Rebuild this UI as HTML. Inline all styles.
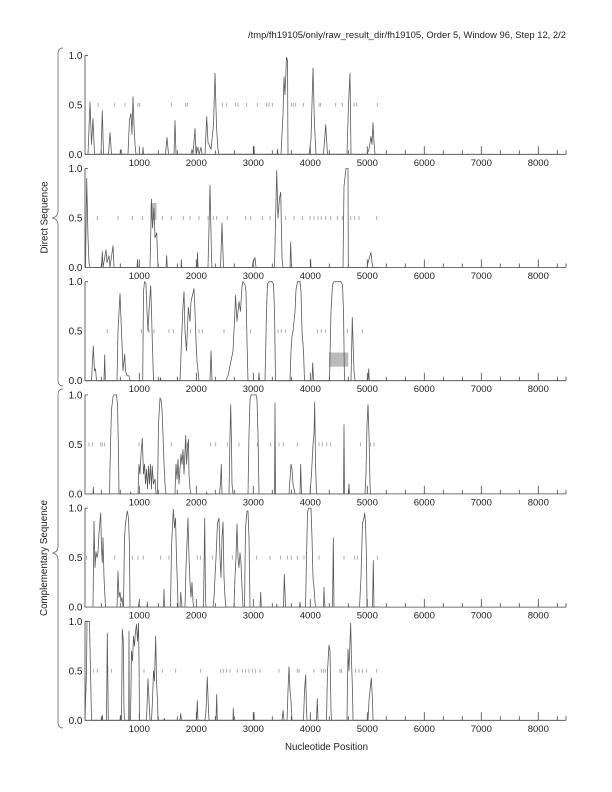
<!DOCTYPE html>
<html><head><meta charset="utf-8"><style>
html,body{margin:0;padding:0;background:#fff;}
svg{display:block;}
text{font-family:"Liberation Sans",Arial,sans-serif;fill:#222;}
.d{fill:none;stroke:#5a5a5a;stroke-width:0.8;vector-effect:non-scaling-stroke;stroke-linejoin:round;}
.m{fill:none;stroke:#999;stroke-width:0.8;vector-effect:non-scaling-stroke;}
</style></head><body>
<svg width="612" height="792" viewBox="0 0 612 792" xmlns="http://www.w3.org/2000/svg">
<defs>
<g id="ax" fill="none" stroke="#444" stroke-width="0.8">
<path d="M85 -99 V0 H566 M85 -99 H88"/>
<path d="M139.3 0v-8M196.3 0v-8M253.3 0v-8M310.3 0v-8M367.3 0v-8M424.3 0v-8M481.3 0v-8M538.3 0v-8"/>
<path d="M101.3 0v-4M120.3 0v-4M158.3 0v-4M177.3 0v-4M215.3 0v-4M234.3 0v-4M272.3 0v-4M291.3 0v-4M329.3 0v-4M348.3 0v-4M386.3 0v-4M405.3 0v-4M443.3 0v-4M462.3 0v-4M500.3 0v-4M519.3 0v-4M557.3 0v-4M566 0v-4"/>
</g>
</defs>

<text x="566" y="38" font-size="9" text-anchor="end" textLength="318" lengthAdjust="spacingAndGlyphs">/tmp/fh19105/only/raw_result_dir/fh19105, Order 5, Window 96, Step 12, 2/2</text>

<!-- braces -->
<path d="M63 48 Q58 48 58 54 L58 211 Q58 217 52 218 Q58 219 58 225 L58 380 Q58 386 63 386" fill="none" stroke="#666" stroke-width="0.8"/>
<path d="M63 389 Q58 389 58 395 L58 546 Q58 552 52.5 553 Q58 554 58 560 L58 722 Q58 728 63 728" fill="none" stroke="#666" stroke-width="0.8"/>
<text transform="translate(47.5,217.5) rotate(-90)" font-size="10" text-anchor="middle" textLength="72" lengthAdjust="spacingAndGlyphs">Direct Sequence</text>
<text transform="translate(47,558) rotate(-90)" font-size="10" text-anchor="middle" textLength="116" lengthAdjust="spacingAndGlyphs">Complementary Sequence</text>

<!-- axes -->
<use href="#ax" y="154.3"/>
<use href="#ax" y="267.5"/>
<use href="#ax" y="380.7"/>
<use href="#ax" y="493.9"/>
<use href="#ax" y="607.1"/>
<use href="#ax" y="720.3"/>

<!-- y labels -->
<g font-size="10" text-anchor="end">
<text x="82.5" y="58.8">1.0</text><text x="82.5" y="108.3">0.5</text><text x="82.5" y="157.8">0.0</text>
<text x="82.5" y="172">1.0</text><text x="82.5" y="221.5">0.5</text><text x="82.5" y="271">0.0</text>
<text x="82.5" y="285.2">1.0</text><text x="82.5" y="334.7">0.5</text><text x="82.5" y="384.2">0.0</text>
<text x="82.5" y="398.4">1.0</text><text x="82.5" y="447.9">0.5</text><text x="82.5" y="497.4">0.0</text>
<text x="82.5" y="511.6">1.0</text><text x="82.5" y="561.1">0.5</text><text x="82.5" y="610.6">0.0</text>
<text x="82.5" y="624.8">1.0</text><text x="82.5" y="674.3">0.5</text><text x="82.5" y="723.8">0.0</text>
</g>

<!-- x labels -->
<g font-size="9.5" text-anchor="middle">
<text x="139.3" y="165.8">1000</text><text x="196.3" y="165.8">2000</text><text x="253.3" y="165.8">3000</text><text x="310.3" y="165.8">4000</text><text x="367.3" y="165.8">5000</text><text x="424.3" y="165.8">6000</text><text x="481.3" y="165.8">7000</text><text x="538.3" y="165.8">8000</text>
<text x="139.3" y="279">1000</text><text x="196.3" y="279">2000</text><text x="253.3" y="279">3000</text><text x="310.3" y="279">4000</text><text x="367.3" y="279">5000</text><text x="424.3" y="279">6000</text><text x="481.3" y="279">7000</text><text x="538.3" y="279">8000</text>
<text x="139.3" y="392.2">1000</text><text x="196.3" y="392.2">2000</text><text x="253.3" y="392.2">3000</text><text x="310.3" y="392.2">4000</text><text x="367.3" y="392.2">5000</text><text x="424.3" y="392.2">6000</text><text x="481.3" y="392.2">7000</text><text x="538.3" y="392.2">8000</text>
<text x="139.3" y="505.4">1000</text><text x="196.3" y="505.4">2000</text><text x="253.3" y="505.4">3000</text><text x="310.3" y="505.4">4000</text><text x="367.3" y="505.4">5000</text><text x="424.3" y="505.4">6000</text><text x="481.3" y="505.4">7000</text><text x="538.3" y="505.4">8000</text>
<text x="139.3" y="618.6">1000</text><text x="196.3" y="618.6">2000</text><text x="253.3" y="618.6">3000</text><text x="310.3" y="618.6">4000</text><text x="367.3" y="618.6">5000</text><text x="424.3" y="618.6">6000</text><text x="481.3" y="618.6">7000</text><text x="538.3" y="618.6">8000</text>
<text x="139.3" y="731.8">1000</text><text x="196.3" y="731.8">2000</text><text x="253.3" y="731.8">3000</text><text x="310.3" y="731.8">4000</text><text x="367.3" y="731.8">5000</text><text x="424.3" y="731.8">6000</text><text x="481.3" y="731.8">7000</text><text x="538.3" y="731.8">8000</text>
</g>
<text x="326.5" y="750" font-size="10" text-anchor="middle" textLength="83" lengthAdjust="spacingAndGlyphs">Nucleotide Position</text>

<!-- grey rects -->
<rect x="150.5" y="203" width="6" height="17" fill="#bbb"/>
<rect x="329" y="352.5" width="19.3" height="14.2" fill="#bbb"/>

<!-- Panel 1 -->
<g transform="translate(0,154.3) scale(1,-99)">
<path class="m" d="M98 0.48V0.52M114.7 0.48V0.52M125 0.48V0.52M138 0.48V0.52M139.7 0.48V0.52M171.3 0.48V0.52M185.7 0.48V0.52M187.3 0.48V0.52M222.3 0.48V0.52M226.7 0.48V0.52M235.7 0.48V0.52M238 0.48V0.52M246.7 0.48V0.52M257.3 0.48V0.52M266.7 0.48V0.52M269 0.48V0.52M272.3 0.48V0.52M291.3 0.48V0.52M293.3 0.48V0.52M295.7 0.48V0.52M303.3 0.48V0.52M319 0.48V0.52M320.7 0.48V0.52M335.7 0.48V0.52M342.3 0.48V0.52M354 0.48V0.52M356.7 0.48V0.52M377.3 0.48V0.52"/>
<path class="d" d="M85 0L88 0L90 0.53L91.5 0.1L93 0.36L94.5 0L101 0L102.3 0.44L103.5 0L108.5 0L110 0.22L111.5 0L120 0L121 0.05L122 0L128 0L129.5 0.35L131 0.41L132 0.2L133 0.58L134 0.3L135 0.1L136 0L142.5 0L143 0.07L143.5 0L165.5 0L167 0.17L168.5 0L174 0L175 0.34L176 0L191 0L192 0.05L193 0L195 0.26L196 0L198 0.07L199 0L201 0.07L202 0L205 0L206.7 0.38L208 0.12L209 0.1L211 0.05L213.5 0.3L215 0.82L216.5 0.28L218 0.05L219 0L253.5 0L254 0.08L254.5 0L277 0L277.5 0.05L278 0L281 0L283 0.4L284 0.78L285 0.6L286.5 0.98L287.5 0.95L288 0L309 0L311 0.15L313 0.87L314.5 0.3L316 0L323.5 0L325.7 0.3L327.5 0L347 0L348.5 0.5L350 0.82L351 0L367 0L369 0.05L371 0.18L372 0.1L373 0.32L374 0.12L375 0L380 0"/>
</g>

<!-- Panel 2 -->
<g transform="translate(0,267.5) scale(1,-99)">
<path class="m" d="M97.3 0.48V0.52M118 0.48V0.52M132.3 0.48V0.52M142.3 0.48V0.52M162.3 0.48V0.52M171.3 0.48V0.52M183.3 0.48V0.52M190 0.48V0.52M199 0.48V0.52M208 0.48V0.52M213.3 0.48V0.52M216.7 0.48V0.52M227.3 0.48V0.52M245.7 0.48V0.52M250.7 0.48V0.52M262.3 0.48V0.52M270 0.48V0.52M285.7 0.48V0.52M294 0.48V0.52M302.3 0.48V0.52M310 0.48V0.52M314 0.48V0.52M318 0.48V0.52M321.3 0.48V0.52M325.7 0.48V0.52M330.7 0.48V0.52M337.3 0.48V0.52M342.3 0.48V0.52M350.7 0.48V0.52M354.7 0.48V0.52M359 0.48V0.52M376.7 0.48V0.52"/>
<path class="d" d="M85 0L85.5 0L86.7 0.9L88 0.3L89 0.05L90 0L101.5 0L102.3 0.16L103 0L106 0.18L107 0.05L109 0.12L110 0L113 0.22L114 0L137 0L137.5 0.08L138 0L150 0L151.5 0.69L152.5 0.4L154 0.6L155 0.3L156.7 0.35L158 0L166 0L166.7 0.12L167.3 0L181 0L181.3 0.08L181.8 0L197 0L197.5 0.15L198 0L208 0L210 0.83L211.5 0.1L212 0L220.5 0L222 0.45L223.5 0L252 0L253 0.05L255 0.1L256 0L274.5 0L276.7 0.98L278 0.5L279.5 0.7L280.7 0.76L282 0.1L283 0L290 0L290.7 0.26L291.5 0L310.5 0L310.7 0.08L311 0L343 0L344 0.82L346 1L348 1L348.3 0L367 0L368 0.05L370 0.12L371 0.15L372 0.05L373 0L380 0"/>
</g>

<!-- Panel 3 -->
<g transform="translate(0,380.7) scale(1,-99)">
<path class="m" d="M107.3 0.48V0.52M141.3 0.48V0.52M149 0.48V0.52M154 0.48V0.52M169 0.48V0.52M173.3 0.48V0.52M190.7 0.48V0.52M199 0.48V0.52M202.3 0.48V0.52M224 0.48V0.52M250.7 0.48V0.52M278 0.48V0.52M281.3 0.48V0.52M285.7 0.48V0.52M317.3 0.48V0.52M321.3 0.48V0.52M325.7 0.48V0.52M347.3 0.48V0.52M362.3 0.48V0.52"/>
<path class="d" d="M85 0L91.5 0L93.3 0.35L94.5 0.1L95.5 0.12L96.5 0L104 0L104.7 0.26L105.3 0L117 0L118 0.5L120 0.88L121.5 0.5L122.3 0.3L123 0.1L124.7 0.27L125.5 0.1L127 0.05L129 0.05L130 0L142.7 0L143.5 0.9L144.5 1L146 0.98L147 0.7L148 0.5L149 0.7L150.7 0.96L151.5 0.7L152.3 0.4L153.5 0L160 0L160.5 0.03L161 0L180 0L181.5 0.4L183 0.75L184 0.9L185 0.5L186.5 0.3L188.3 0.74L190 0.6L191 0.8L194 0.93L195 0.7L196 0.4L197 0.2L199 0L210 0L211 0.3L212 0L226 0L228 0.05L231 0.2L233 0.3L234.5 0.6L235.5 0.86L237 0.6L239 0.8L240.5 0.7L242 0.95L243 1L245 0.97L246 0.9L247 0.4L248 0L258.5 0L259 0.08L259.5 0L265 0L266.5 0.7L267.5 0.98L269 1L272 1L273.5 0.98L274.5 0.7L275.5 0L290 0L291 0.3L292 0.45L293 0.5L295 0.7L296 0.92L297.5 1L300 1L301 0.9L302 0.5L303.5 0.3L304.5 0L312 0L312.7 0.18L313.5 0L329.5 0L331 0.7L332.5 0.97L334 1L341 1L342.5 0.97L343.5 0.7L344.5 0L351 0L352.3 0.64L353 0.4L354 0.1L355 0L368 0L368.7 0.12L369.3 0L380 0"/>
</g>

<!-- Panel 4 -->
<g transform="translate(0,493.9) scale(1,-99)">
<path class="m" d="M89 0.48V0.52M92.3 0.48V0.52M100.7 0.48V0.52M102.3 0.48V0.52M104.7 0.48V0.52M139 0.48V0.52M171.3 0.48V0.52M187.3 0.48V0.52M210.7 0.48V0.52M215.7 0.48V0.52M227.3 0.48V0.52M239 0.48V0.52M257.3 0.48V0.52M270.7 0.48V0.52M279 0.48V0.52M283.3 0.48V0.52M297.3 0.48V0.52M319 0.48V0.52M322.3 0.48V0.52M326.7 0.48V0.52M330.7 0.48V0.52M360.7 0.48V0.52M370.7 0.48V0.52M374 0.48V0.52"/>
<path class="d" d="M85 0L93 0L93.3 0.07L93.7 0L109.5 0L110.5 0.5L111.5 0.85L113 0.98L114 1L116.5 1L117.5 0.9L118.5 0.4L119 0L130.5 0L130.7 0.02L131 0L138 0L139 0.3L140 0.2L141 0.4L142.3 0.56L143.5 0.2L144.5 0.3L145.5 0.1L146.5 0.25L147.5 0.05L148.5 0.28L149.5 0.1L150.5 0.3L151.5 0.05L152.3 0.28L153.5 0.1L155 0.15L156 0L157.5 0L158.5 0.7L160 0.97L161 0.95L162 0.85L163 0.6L164 0.3L165 0.1L166 0L175 0L176 0.3L177 0.15L178 0.35L179 0.1L180 0.25L181 0.4L182 0.3L183 0.45L184 0.2L185.7 0.59L186.5 0.3L187.5 0.45L188.5 0.55L189 0.2L190 0.05L191 0L206.5 0L206.7 0.02L207 0L219.5 0L220.5 0.1L221.3 0.3L222 0L229 0L230 0.6L230.7 0.9L231.5 0.5L232 0.1L233 0L248 0L249 0.6L250 0.95L251 1L256 1L257 0.95L258 0.6L259 0L274.5 0L275 0.92L275.5 0L289 0L290 0.15L291 0.3L292 0.25L293 0.1L294 0.05L295 0L300 0L300.7 0.3L301.5 0L310 0L311.5 0.2L313 0.5L314 0.6L314.7 0.93L315.5 0.3L316.5 0L343.5 0L344 0.7L344.5 0L348.5 0L349 0.1L349.5 0L365 0L366 0.2L367 0.7L368 0.9L369 0.6L370 0.1L370.5 0L380 0"/>
</g>

<!-- Panel 5 -->
<g transform="translate(0,607.1) scale(1,-99)">
<path class="m" d="M86.7 0.48V0.52M114.7 0.48V0.52M132.3 0.48V0.52M138 0.48V0.52M143.3 0.48V0.52M160.7 0.48V0.52M169 0.48V0.52M197.3 0.48V0.52M200.7 0.48V0.52M212.3 0.48V0.52M232.3 0.48V0.52M256.7 0.48V0.52M270 0.48V0.52M280.7 0.48V0.52M287.3 0.48V0.52M291.3 0.48V0.52M297.3 0.48V0.52M304 0.48V0.52M319 0.48V0.52M333.3 0.48V0.52M344 0.48V0.52M354.7 0.48V0.52M357.3 0.48V0.52M377.3 0.48V0.52"/>
<path class="d" d="M85 0L93 0L94 0.87L95 0.4L96 0.56L97 0.5L98 0.55L99 0.75L100.7 0.95L101.5 0.6L102.3 0.45L103 0.7L104 0.3L105.5 0L117 0L118 0.36L119 0.1L120 0.15L121 0.05L122 0.1L123 0L123.5 0L124.5 0.7L125.5 0.85L127.3 0.97L128.5 0.9L129.5 0.6L130 0L138.5 0L139 0.05L139.5 0L147 0L147.3 0.05L147.7 0L163.5 0L164 0.18L164.5 0L170.5 0L171.5 0.6L173.3 0.99L174.5 0.8L175.5 0.9L176.5 0.5L177.5 0.2L178 0L180 0L180.7 0.15L181.5 0.05L182 0L185 0L186 0.4L188 0.9L189 0.5L190 0.25L191 0.1L192 0.25L193 0.05L194 0L203.5 0L204.7 0.9L205.5 0.08L206 0L213 0L214 0.1L216 0.5L217.5 0.85L219 0.9L220 0.5L221 0.3L222 0.7L223 0.86L224 0.3L225 0.1L226 0L234 0L235 0.3L236 0.5L237 0.84L238 0.5L239 0.4L240 0.55L241 0.45L242 0.2L242.5 0.1L243 0L244.5 0L245.5 0.8L247 0.97L248 0.97L249 0.7L250 0L260 0L260.7 0.15L261.3 0L276.5 0L276.7 0.03L277 0L283.5 0L284.3 0.33L285 0.15L285.5 0L299.5 0L300 0.05L300.5 0L305.5 0L306.5 0.5L307.5 0.95L308.5 1L311 1L312 0.7L313 0.3L314 0.2L315 0.05L316 0L323.5 0L324 0.2L324.5 0.05L325 0L332.5 0L333.3 0.7L334 0L359.5 0L361 0.3L362.5 0.85L364 0.9L364.7 0.95L365.5 0.85L366.5 0.5L367 0L372.5 0L373.3 0.47L374 0L380 0"/>
</g>

<!-- Panel 6 -->
<g transform="translate(0,720.3) scale(1,-99)">
<path class="m" d="M93.3 0.48V0.52M97.3 0.48V0.52M111.3 0.48V0.52M144 0.48V0.52M162.3 0.48V0.52M175.7 0.48V0.52M200.7 0.48V0.52M220.7 0.48V0.52M223.3 0.48V0.52M226.7 0.48V0.52M230 0.48V0.52M237.3 0.48V0.52M242.3 0.48V0.52M245.7 0.48V0.52M249 0.48V0.52M252.3 0.48V0.52M255.7 0.48V0.52M260 0.48V0.52M279 0.48V0.52M297.3 0.48V0.52M299 0.48V0.52M314 0.48V0.52M321.3 0.48V0.52M323.3 0.48V0.52M325.7 0.48V0.52M340 0.48V0.52M341.3 0.48V0.52M355.7 0.48V0.52M359 0.48V0.52M362.3 0.48V0.52M366.7 0.48V0.52M376.7 0.48V0.52"/>
<path class="d" d="M85 0L86.5 0.5L87 1L89.5 1L90.5 0.5L91.5 0L102 0L102.3 0.05L102.7 0L106.5 0L107.3 0.88L108.3 0L120 0L120.5 0.05L121 0L121.5 0L122.3 0.92L123.3 0.8L124 0.1L124.5 0L128.7 0L129 0.9L129.3 0L130.5 0L131.5 0.7L132.5 0.6L133.5 0.85L134.5 0.75L135.5 0.9L136.5 0.97L137.5 0.8L138.5 0.98L139 0.6L139.5 0L146.5 0L148 0.42L149 0.2L150 0L151.5 0L152.5 0.2L153.5 0.5L154.5 0.4L155.7 0.85L156.5 0.4L157.5 0.2L158 0L164 0L164.3 0.02L164.7 0L180 0L180.7 0.07L181.5 0L196.5 0L197.3 0.2L198 0L205 0L206 0.1L207.3 0.44L208.5 0.1L209 0L216 0L216.7 0.26L217.3 0L233 0L233.3 0.12L233.7 0L253.7 0L254 0.08L254.3 0L282 0L283 0.1L284 0L287 0L288 0.3L289 0.54L290 0.3L291 0.2L292 0L303.5 0L304.5 0.3L305.7 0.46L306.5 0.1L307 0L316.5 0L317.3 0.22L318 0L326.5 0L327.5 0.5L329 0.76L330 0.7L331 0.1L331.5 0L347 0L348 0.72L349 0.5L350 0.8L350.7 0.98L351.5 0.6L352.5 0.3L353 0L368 0L369 0.2L370 0.3L371.3 0.43L372.5 0.2L373 0L380 0"/>
</g>
</svg>
</body></html>
